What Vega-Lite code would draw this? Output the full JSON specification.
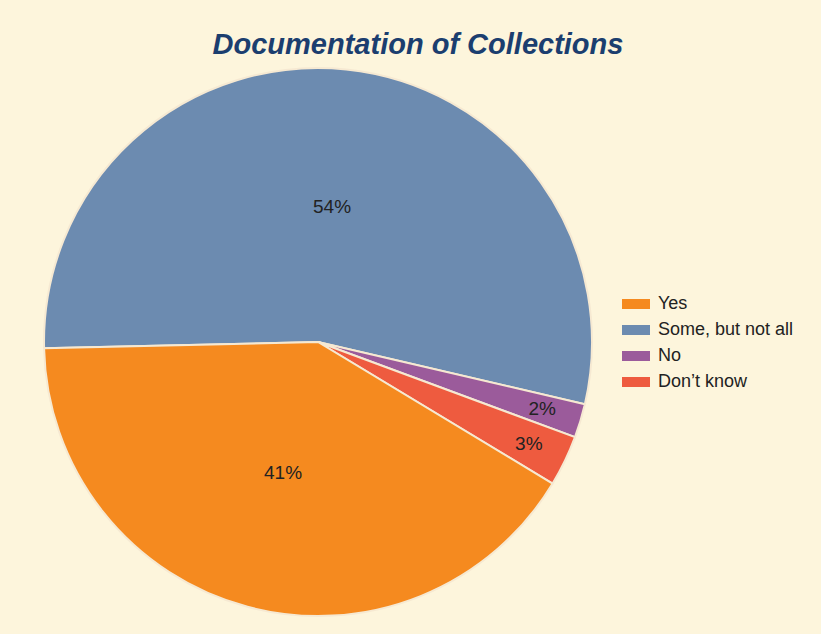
{
  "$schema": "https://vega.github.io/schema/vega-lite/v6.json",
  "width": 548,
  "height": 548,
  "autosize": {"type": "none"},
  "padding": {"left": 44, "top": 68, "right": 229, "bottom": 18},
  "background": "#FDF5DC",
  "title": {
    "text": "Documentation of Collections",
    "font": "Liberation Sans",
    "fontSize": 29,
    "fontWeight": "bold",
    "fontStyle": "italic",
    "color": "#1B3E6F",
    "anchor": "middle",
    "frame": "group",
    "dx": 100,
    "offset": 4
  },
  "data": {
    "values": [
      {"answer": "Some, but not all", "share": 0.54, "rank": 1},
      {"answer": "No", "share": 0.02, "rank": 2},
      {"answer": "Don’t know", "share": 0.03, "rank": 3},
      {"answer": "Yes", "share": 0.41, "rank": 4}
    ]
  },
  "encoding": {
    "theta": {"field": "share", "type": "quantitative", "stack": true, "scale": {"range": [4.69, 10.973]}},
    "order": {"field": "rank", "type": "quantitative"}
  },
  "layer": [
    {
      "mark": {"type": "arc", "stroke": "#F6E9D2", "strokeWidth": 2},
      "encoding": {
        "color": {
          "field": "answer",
          "type": "nominal",
          "scale": {
            "domain": ["Yes", "Some, but not all", "No", "Don’t know"],
            "range": ["#F58A1F", "#6C8BB0", "#9B5B9B", "#EE5B3F"]
          },
          "legend": {
            "title": null,
            "orient": "none",
            "legendX": 582,
            "legendY": 226,
            "labelFont": "Liberation Sans",
            "labelFontSize": 18,
            "labelColor": "#222222",
            "labelOffset": 12,
            "rowPadding": 7,
            "symbolType": "M-1.4,-0.5H1.4V0.5H-1.4Z",
            "symbolSize": 400,
            "symbolStrokeWidth": 0,
            "symbolOpacity": 1
          }
        }
      }
    },
    {
      "mark": {"type": "text", "radius": 136, "font": "Liberation Sans", "fontSize": 19, "color": "#222222"},
      "encoding": {
        "text": {
          "condition": {"test": "datum.share >= 0.1", "field": "share", "type": "quantitative", "format": ".0%"},
          "value": ""
        }
      }
    },
    {
      "mark": {"type": "text", "radius": 234, "font": "Liberation Sans", "fontSize": 19, "color": "#222222"},
      "encoding": {
        "text": {
          "condition": {"test": "datum.share < 0.1", "field": "share", "type": "quantitative", "format": ".0%"},
          "value": ""
        }
      }
    }
  ]
}
